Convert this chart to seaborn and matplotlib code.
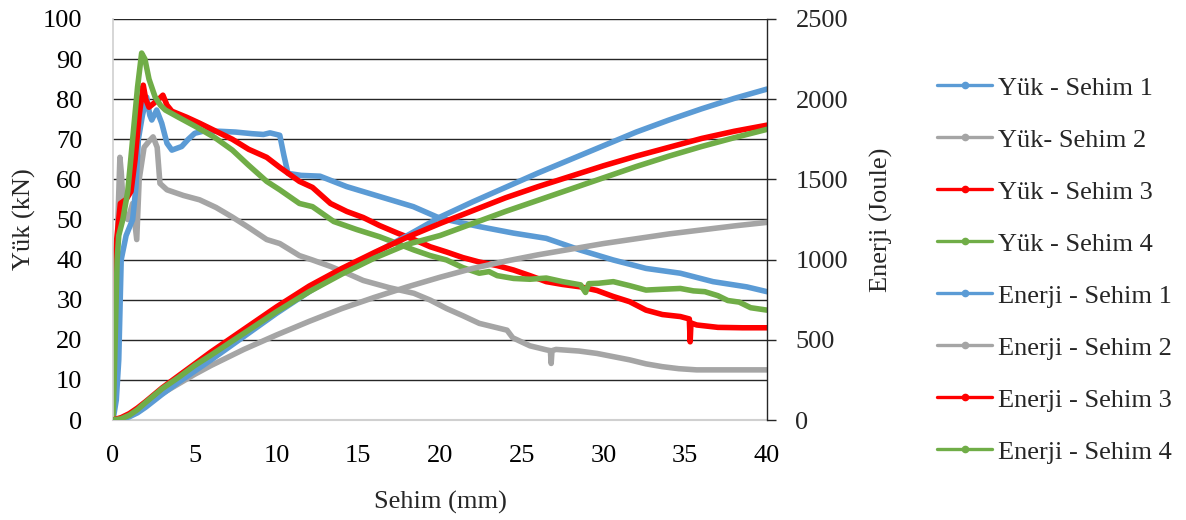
import matplotlib
matplotlib.use("Agg")
import matplotlib.pyplot as plt
from matplotlib.lines import Line2D
import seaborn as sns

# ---------------- data ----------------
# Load (Yük, kN) vs deflection (Sehim, mm)
yuk1_x = [0, 0.2, 0.35, 0.5, 0.8, 1.2, 1.4, 1.55, 1.8, 2.06, 2.25, 2.37, 2.67, 2.98, 3.3, 3.6, 4.2, 4.6, 5.0,
          5.5, 6.5, 7.5, 8.5, 9.2, 9.6, 10.2, 10.45, 10.7, 11.5, 12.66, 14.29, 16.33, 18.37, 20.0, 22.45,
          24.5, 26.5, 28.56, 30.6, 32.6, 34.7, 36.7, 38.76, 40]
yuk1_y = [0, 5, 15, 40, 46, 50, 58, 70, 76, 80.5, 76, 74.8, 77.3, 74, 69, 67.3, 68.2, 70, 71.5,
          72, 72, 71.8, 71.4, 71.2, 71.6, 71.0, 66, 61.5, 61, 60.8, 58.2, 55.7, 53.2, 50.3, 48.2,
          46.6, 45.3, 42.4, 39.9, 37.8, 36.6, 34.5, 33.2, 32.0]

yuk2_x = [0, 0.15, 0.3, 0.42, 0.5, 0.65, 0.9, 1.2, 1.45, 1.6, 1.9, 2.2, 2.45, 2.7, 2.87, 3.3, 4.3, 5.3, 6.3,
          7.3, 8.3, 9.4, 10.2, 11.4, 12.2, 13.3, 14.3, 15.3, 16.9, 18.4, 19.4, 20.4, 21.4, 22.4, 23.5,
          24.1, 24.45, 25.5, 26.5, 26.75, 26.8, 26.85, 27.1, 28.5, 29.6, 30.6, 31.6, 32.6, 33.6, 34.6,
          35.7, 37, 38.5, 40]
yuk2_y = [0, 20, 50, 65.5, 62, 52, 50, 54, 45, 60, 68, 69.5, 70.6, 68, 59, 57.4, 56, 54.9, 53,
          50.6, 48, 45, 44, 41, 39.9, 38.3, 36.6, 34.8, 33, 31.6, 29.9, 27.8, 26, 24.1, 23,
          22.4, 20.5, 18.5, 17.5, 17.3, 14.1, 17.3, 17.6, 17.2, 16.6, 15.8, 15.0, 14.0, 13.3, 12.8,
          12.5, 12.5, 12.5, 12.5]

yuk3_x = [0, 0.05, 0.15, 0.3, 0.45, 0.8, 1.1, 1.35, 1.6, 1.85, 2.0, 2.2, 2.5, 2.8, 3.05, 3.3, 3.6, 4.5, 5.3,
          6.3, 7.3, 8.3, 9.4, 10.2, 11.4, 12.2, 13.3, 14.3, 15.3, 16.3, 17.4, 18.4, 19.4, 20.4, 21.4,
          22.4, 23.5, 24.5, 25.5, 26.5, 27.5, 28.6, 29.6, 30.6, 31.6, 32.6, 33.6, 34.7, 35.25, 35.3,
          35.35, 35.7, 37, 38.5, 40]
yuk3_y = [0, 25, 42, 48, 54, 55, 57, 65, 76, 83.5, 80, 78, 79, 80, 81, 78.5, 77, 75.5, 74,
          72, 70, 67.5, 65.5, 63, 59.5, 58, 54, 52, 50.5, 48.5, 46.6, 45, 43.2, 41.9, 40.5,
          39.4, 38.5, 37.4, 36, 34.5, 33.8, 33.2, 32.3, 30.8, 29.5, 27.4, 26.3, 25.8, 25.2, 19.5,
          24.2, 23.7, 23.1, 23.0, 23.0]

yuk4_x = [0, 0.1, 0.25, 0.35, 0.6, 0.9, 1.2, 1.5, 1.75, 1.95, 2.2, 2.57, 2.9, 3.2, 4.0, 5.0, 6.2, 7.3, 8.3,
          9.4, 10.2, 11.4, 12.2, 13.5, 14.9, 16.3, 17.4, 18.4, 19.4, 20.4, 21.4, 22.4, 23.0, 23.5, 24.5,
          25.5, 26.5, 27.5, 28.6, 28.9, 29.1, 29.7, 30.6, 31.6, 32.6, 33.6, 34.7, 35.5, 36.2, 37.0,
          37.6, 38.3, 39.0, 40]
yuk4_y = [0, 15, 40, 46, 50, 57, 70, 83, 91.5, 90, 85, 80.6, 78.5, 77.3, 75.5, 73.3, 70.5, 67.3, 63.5,
          59.5, 57.4, 54, 53.2, 49.5, 47.5, 45.7, 44, 42.4, 41, 39.9, 38, 36.6, 37, 36, 35.3,
          35.1, 35.4, 34.5, 33.7, 31.8, 34, 34.1, 34.5, 33.5, 32.4, 32.6, 32.8, 32.2, 32.0, 31.0,
          29.8, 29.4, 28.0, 27.4]

# Energy (Enerji, Joule) vs deflection (mm)
enerji_x = [0, 0.5, 1, 1.5, 2, 3, 4, 5, 6, 8, 10, 12, 14, 16, 18, 20, 22, 24, 26, 28, 30, 32, 34, 36, 38, 40]
enerji1 = [0, 5, 20, 45, 80, 160, 235, 305, 375, 520, 665, 800, 925, 1040, 1150, 1265, 1360, 1450, 1540,
           1625, 1710, 1795, 1870, 1940, 2005, 2063]
enerji2 = [0, 10, 35, 60, 95, 165, 225, 285, 340, 440, 530, 615, 695, 765, 830, 890, 945, 990, 1030,
           1065, 1100, 1130, 1160, 1185, 1210, 1232]
enerji3 = [0, 15, 40, 75, 115, 200, 275, 350, 425, 565, 705, 835, 945, 1045, 1140, 1225, 1305, 1385, 1455,
           1520, 1585, 1645, 1700, 1755, 1800, 1838]
enerji4 = [0, 8, 30, 65, 110, 195, 265, 340, 405, 540, 675, 800, 910, 1010, 1095, 1150, 1225, 1300, 1370,
           1440, 1510, 1580, 1645, 1705, 1760, 1812]

labels = ["Yük - Sehim 1", "Yük- Sehim 2", "Yük - Sehim 3", "Yük - Sehim 4",
          "Enerji - Sehim 1", "Enerji - Sehim 2", "Enerji - Sehim 3", "Enerji - Sehim 4"]
colors = ["#5B9BD5", "#A5A5A5", "#FF0000", "#70AD47"]

x_ticks = [0, 5, 10, 15, 20, 25, 30, 35, 40]
y_ticks = [0, 10, 20, 30, 40, 50, 60, 70, 80, 90, 100]
y2_ticks = [0, 500, 1000, 1500, 2000, 2500]

# ---------------- style ----------------
sns.set_theme(style="white")
plt.rcParams["font.family"] = ["Liberation Serif", "DejaVu Serif"]
FS = 19
plt.rcParams["font.size"] = FS

fig = plt.figure(figsize=(11.86, 5.2), dpi=100)
ax = fig.add_axes([0.0953, 0.1923, 0.6467 - 0.0953, 0.9635 - 0.1923])
ax2 = ax.twinx()

LW = 4.0
loads = [(yuk1_x, yuk1_y), (yuk2_x, yuk2_y), (yuk3_x, yuk3_y), (yuk4_x, yuk4_y)]
order = [1, 0, 2, 3]
for i in order:
    xs, ys = loads[i]
    sns.lineplot(x=xs, y=ys, ax=ax, color=colors[i], lw=LW, sort=False,
                 estimator=None, legend=False, solid_capstyle="round", solid_joinstyle="round")

energies = [enerji1, enerji2, enerji3, enerji4]
for i in [1, 0, 2, 3]:
    sns.lineplot(x=enerji_x, y=energies[i], ax=ax2, color=colors[i], lw=LW, sort=False,
                 estimator=None, legend=False, solid_capstyle="round", solid_joinstyle="round")

# axes
ax.set_xlim(0, 40)
ax.set_ylim(0, 100)
ax2.set_ylim(0, 2500)
ax.set_xticks(x_ticks)
ax.set_yticks(y_ticks)
ax2.set_yticks(y2_ticks)
ax.set_xticklabels([str(v) for v in x_ticks])
ax.set_yticklabels([str(v) for v in y_ticks])
ax2.set_yticklabels([str(v) for v in y2_ticks])

for a in (ax, ax2):
    a.grid(False)
    for s in a.spines.values():
        s.set_visible(False)

for v in y_ticks:
    ax.axhline(v, color="#262626", lw=1.0, zorder=0.5)
ax.spines["left"].set_visible(True)
ax.spines["left"].set_color("#d0d0d0")
ax.spines["left"].set_linewidth(1.2)
ax.spines["bottom"].set_visible(True)
ax.spines["bottom"].set_color("#d0d0d0")
ax.spines["bottom"].set_linewidth(1.5)
ax.spines["bottom"].set_zorder(0.6)
ax2.spines["right"].set_visible(True)
ax2.spines["right"].set_color("#262626")
ax2.spines["right"].set_linewidth(1.0)

ax.tick_params(axis="both", length=0, labelsize=FS, colors="#000000")
ax.tick_params(axis="y", pad=22)
ax.tick_params(axis="x", pad=18)
ax2.tick_params(axis="y", direction="out", length=6.5, width=1.0, color="#262626",
                labelsize=FS, pad=14, right=True)

ax.set_xlabel("Sehim (mm)", fontsize=FS, labelpad=17)
ax.set_ylabel("Yük (kN)", fontsize=FS, labelpad=5)
ax2.set_ylabel("Enerji (Joule)", fontsize=FS, labelpad=16)

# legend
handles = []
for j in range(8):
    c = colors[j % 4]
    handles.append(Line2D([0], [0], color=c, lw=2.4, marker="o", markersize=4.5,
                          markerfacecolor=c, markeredgecolor=c))
fig.legend(handles, labels, loc="center left", bbox_to_anchor=(0.781, 0.481),
           frameon=False, fontsize=FS, handlelength=2.1, handletextpad=0.2,
           labelspacing=1.08, borderaxespad=0)

fig.savefig("out.png", dpi=100)
